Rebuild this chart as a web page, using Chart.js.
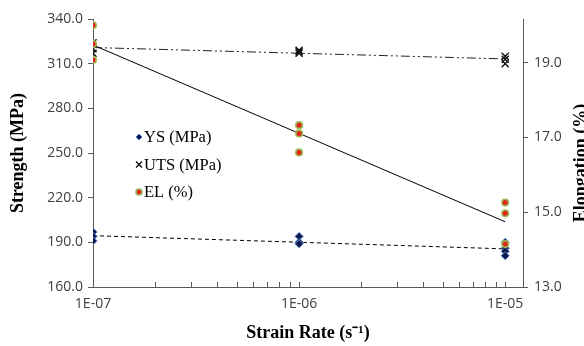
<!DOCTYPE html>
<html><head><meta charset="utf-8">
<script src="https://cdn.jsdelivr.net/npm/chart.js@4.4.0/dist/chart.umd.min.js"></script>
<style>html,body{margin:0;padding:0;background:#fff;} #wrap{width:584px;height:346px;position:relative;}</style>
</head><body><div id="wrap"><canvas id="c" width="584" height="346"></canvas></div>
<script>
// ---- data ----
const strainRates = [1e-7, 1e-6, 1e-5];
const ysValues  = [[197, 194, 191], [194, 190, 189], [190, 186, 184, 181]];
const utsValues = [[324, 320, 317], [319, 318, 317], [315, 313, 310]];
const elValues  = [[20.0, 19.5, 19.07], [17.33, 17.11, 16.6], [15.26, 14.97, 14.15]];
const strengthTicks = [160, 190, 220, 250, 280, 310, 340];
const elongationTicks = [13, 15, 17, 19];
const seriesNames = ['YS (MPa)', 'UTS (MPa)', 'EL (%)'];
const xTitle = 'Strain Rate (s\u207B\u00B9)';
const yTitle = 'Strength (MPa)';
const y2Title = 'Elongation (%)';

function toPoints(values) {
  const pts = [];
  values.forEach((grp, i) => grp.forEach(v => pts.push({x: strainRates[i], y: v})));
  return pts;
}
function logFit(values) {
  const xs = [], ys = [];
  values.forEach((grp, i) => grp.forEach(v => { xs.push(Math.log10(strainRates[i])); ys.push(v); }));
  const n = xs.length;
  const mx = xs.reduce((a, b) => a + b) / n, my = ys.reduce((a, b) => a + b) / n;
  let sxy = 0, sxx = 0;
  for (let i = 0; i < n; i++) { sxy += (xs[i] - mx) * (ys[i] - my); sxx += (xs[i] - mx) ** 2; }
  const b = sxy / sxx, a = my - b * mx;
  const x0 = strainRates[0], x1 = strainRates[strainRates.length - 1];
  return [{x: x0, y: a + b * Math.log10(x0)}, {x: x1, y: a + b * Math.log10(x1)}];
}

const tickFont = {family: "'Open Sans', sans-serif", size: 14};
const tickColor = '#404040';
const axisColor = '#595959';
const titleFont = {family: "'Liberation Serif', 'Times New Roman', serif", size: 18, weight: 'bold'};

const innerTicks = {
  id: 'innerTicks',
  afterDraw(chart) {
    const s = chart.scales.x, ctx = chart.ctx;
    ctx.save(); ctx.strokeStyle = axisColor; ctx.lineWidth = 1;
    s.ticks.forEach(t => {
      const px = Math.round(s.getPixelForValue(t.value)) + 0.5;
      ctx.beginPath(); ctx.moveTo(px, s.top); ctx.lineTo(px, s.top - 5); ctx.stroke();
    });
    ctx.restore();
  }
};

const rightTitle = {
  id: 'rightTitle',
  afterDraw(chart) {
    const ctx = chart.ctx, a = chart.chartArea;
    ctx.save();
    ctx.translate(chart.width + 2, (a.top + a.bottom) / 2 + 10);
    ctx.rotate(-Math.PI / 2);
    ctx.font = 'bold 18px "Liberation Serif", serif';
    ctx.fillStyle = '#000'; ctx.textAlign = 'center'; ctx.textBaseline = 'alphabetic';
    ctx.fillText(y2Title, 0, 0);
    ctx.restore();
  }
};

function drawMarker(ctx, ds, x, y, r) {
  ctx.save();
  ctx.fillStyle = ds.pointBackgroundColor; ctx.strokeStyle = ds.pointBorderColor;
  ctx.lineWidth = ds.pointBorderWidth;
  ctx.beginPath();
  if (ds.pointStyle === 'rectRot') {
    ctx.moveTo(x - r, y); ctx.lineTo(x, y - r); ctx.lineTo(x + r, y); ctx.lineTo(x, y + r); ctx.closePath();
    ctx.fill(); ctx.stroke();
  } else if (ds.pointStyle === 'crossRot') {
    const d = r * Math.SQRT1_2;
    ctx.moveTo(x - d, y - d); ctx.lineTo(x + d, y + d); ctx.moveTo(x + d, y - d); ctx.lineTo(x - d, y + d);
    ctx.stroke();
  } else {
    ctx.arc(x, y, r, 0, Math.PI * 2); ctx.fill(); ctx.stroke();
  }
  ctx.restore();
}

const insideLegend = {
  id: 'insideLegend',
  afterDraw(chart, args, opts) {
    const ctx = chart.ctx;
    const items = chart.data.datasets.filter(ds => ds.legendRank !== undefined)
      .sort((a, b) => a.legendRank - b.legendRank);
    let y = opts.y;
    items.forEach(ds => {
      drawMarker(ctx, ds, opts.x, y, opts.r * (ds.pointStyle === 'crossRot' ? 1.4 : 1));
      ctx.save();
      ctx.font = '16.5px "Liberation Serif", serif';
      ctx.fillStyle = '#000'; ctx.textBaseline = 'middle'; ctx.textAlign = 'left';
      ctx.fillText(ds.label, opts.x + 5, y + 1);
      ctx.restore();
      y += opts.gap;
    });
  }
};

const datasets = [
  {label: seriesNames[2], legendRank: 2, data: toPoints(elValues), yAxisID: 'y2', order: 0,
   pointStyle: 'circle', pointRadius: 3.3, pointBorderWidth: 1.6,
   pointBackgroundColor: '#e3231b', pointBorderColor: '#9bbb59', showLine: false},
  {label: seriesNames[1], legendRank: 1, data: toPoints(utsValues), yAxisID: 'y', order: 1,
   pointStyle: 'crossRot', pointRadius: 5, pointBorderWidth: 1.4,
   pointBackgroundColor: '#000', pointBorderColor: '#111', showLine: false},
  {label: seriesNames[0], legendRank: 0, data: toPoints(ysValues), yAxisID: 'y', order: 2,
   pointStyle: 'rectRot', pointRadius: 4, pointBorderWidth: 1,
   pointBackgroundColor: '#0f1646', pointBorderColor: '#4a78c8', showLine: false},
  {label: 'EL trend', data: logFit(elValues), yAxisID: 'y2', order: 3, showLine: true,
   borderColor: '#000', borderWidth: 1, pointRadius: 0},
  {label: 'UTS trend', data: logFit(utsValues), yAxisID: 'y', order: 4, showLine: true,
   borderColor: '#222', borderWidth: 1, borderDash: [9, 3, 2, 3, 2, 3], pointRadius: 0},
  {label: 'YS trend', data: logFit(ysValues), yAxisID: 'y', order: 5, showLine: true,
   borderColor: '#000', borderWidth: 1, borderDash: [4, 3], pointRadius: 0}
].map(d => Object.assign({fill: false, pointHoverRadius: d.pointRadius}, d));

new Chart(document.getElementById('c'), {
  type: 'scatter',
  data: {datasets},
  options: {
    responsive: false, animation: false, devicePixelRatio: 1,
    layout: {padding: {top: 19, left: 0, right: 0, bottom: 0}},
    plugins: {legend: {display: false}, tooltip: {enabled: false},
      insideLegend: {x: 139, y: 137, gap: 27.5, r: 3}},
    scales: {
      x: {
        type: 'logarithmic', position: 'bottom', min: 1e-7, max: 1.22e-5,
        afterBuildTicks(s) {
          const t = [];
          for (let e = -7; e <= -6; e++) for (let m = 1; m <= 9; m++) t.push({value: m * Math.pow(10, e)});
          t.push({value: 1e-5});
          s.ticks = t;
        },
        afterFit(s) { s.height = 59; },
        grid: {display: true, drawOnChartArea: false, drawTicks: false},
        border: {display: true, color: axisColor, width: 1},
        ticks: {
          autoSkip: false, maxRotation: 0, padding: 9, font: tickFont, color: tickColor,
          callback(v) {
            const e = Math.log10(v);
            if (Math.abs(e - Math.round(e)) > 1e-9) return '';
            const r = Math.round(e);
            return '1E' + (r < 0 ? '-' : '+') + String(Math.abs(r)).padStart(2, '0');
          }
        },
        title: {display: true, text: xTitle, font: titleFont, color: '#000', padding: {top: 0, bottom: 2}}
      },
      y: {
        position: 'left', min: 160, max: 340,
        afterBuildTicks(s) { s.ticks = strengthTicks.map(v => ({value: v})); },
        afterFit(s) { s.width = 93; },
        grid: {display: true, drawOnChartArea: false, drawTicks: true, tickLength: 5, color: axisColor},
        border: {display: true, color: axisColor, width: 1},
        ticks: {padding: 5, font: tickFont, color: tickColor, callback: v => Number(v).toFixed(1)},
        title: {display: true, text: yTitle, font: titleFont, color: '#000', padding: {top: 8, bottom: 0}}
      },
      y2: {
        position: 'right', min: 13, max: 20.17,
        afterBuildTicks(s) { s.ticks = elongationTicks.map(v => ({value: v})); },
        afterFit(s) { s.width = 61; },
        grid: {display: true, drawOnChartArea: false, drawTicks: true, tickLength: 5, color: axisColor},
        border: {display: true, color: axisColor, width: 1},
        ticks: {padding: 6, font: tickFont, color: tickColor, callback: v => Number(v).toFixed(1)},
        title: {display: false}
      }
    }
  },
  plugins: [innerTicks, rightTitle, insideLegend]
});
</script></body></html>
